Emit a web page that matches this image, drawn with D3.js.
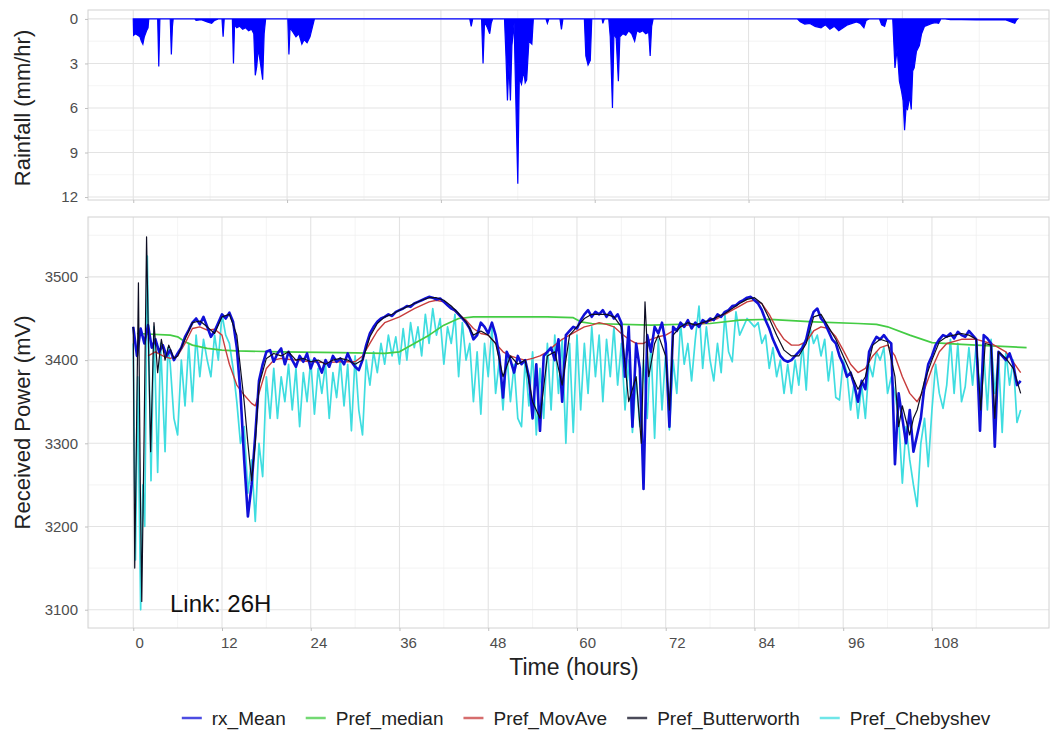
<!DOCTYPE html>
<html>
<head>
<meta charset="utf-8">
<script src="https://cdn.jsdelivr.net/npm/d3@7"></script>
<style>
  html, body { margin: 0; padding: 0; background: #ffffff; }
  svg { display: block; }
</style>
</head>
<body>
<svg id="chart" width="1057" height="735"></svg>
<script>
// ------------------------------------------------------------------
// DATA
// ------------------------------------------------------------------
const seriesNames = ["rx_Mean", "Pref_median", "Pref_MovAve", "Pref_Butterworth", "Pref_Chebyshev"];
const seriesColors = ["#1010d8", "#44cc44", "#c83c3c", "#0d0d22", "#3fdde0"];

const timeTicks = [0, 12, 24, 36, 48, 60, 72, 84, 96, 108];
const powerTicks = [3100, 3200, 3300, 3400, 3500];
const rainTicks = [0, 3, 6, 9, 12];
const rainGridHours = [0, 20.8, 41.6, 62.4, 83.2, 104];

// rainfall (hour, mm/hr)
const rainfall = [
 [0,0],[0.05,1.1],[0.3,1.0],[0.6,1.1],[0.9,1.2],[1.1,1.5],[1.3,1.7],[1.5,1.2],[1.8,0.8],[2.0,0.6],[2.1,0],
 [3.3,0],[3.45,3.2],[3.6,0],
 [5.0,0],[5.15,2.4],[5.3,0.5],[5.4,0],
 [8.3,0],[8.5,0.1],[9.2,0.05],[10.0,0.2],[10.6,0.3],[11.0,0.1],[11.5,0],
 [12.0,0],[12.15,1.2],[12.3,0],
 [13.4,0],[13.55,3.0],[13.7,0.4],[14.0,0.6],[14.4,0.5],[14.8,0.7],[15.2,0.6],[15.6,0.8],[16.0,0.7],[16.3,1.0],[16.5,3.8],[16.7,3.2],[16.9,2.0],[17.2,3.0],[17.5,4.1],[17.7,1.0],[17.9,0],
 [20.9,0],[21.05,2.4],[21.2,0.6],[21.6,0.9],[22.0,1.2],[22.4,1.0],[22.8,1.7],[23.1,1.4],[23.5,1.6],[23.9,1.2],[24.2,0.6],[24.5,0],
 [45.5,0],[45.7,0.5],[45.9,0],
 [47.1,0],[47.3,3.0],[47.5,0.2],[47.9,0.6],[48.2,1.0],[48.4,0.3],[48.6,0],
 [50.2,0],[50.4,2.5],[50.6,5.5],[50.8,3.0],[51.0,5.5],[51.2,1.8],[51.5,0.3],[51.8,7.0],[52.0,11.1],[52.2,4.0],[52.5,4.4],[52.8,3.5],[53.0,4.3],[53.2,4.1],[53.5,1.5],[53.9,1.7],[54.1,0],
 [55.8,0],[56.0,0.3],[56.2,0],[57.7,0],[57.9,0.7],[58.1,0],
 [61.0,0],[61.2,2.5],[61.5,3.1],[61.8,2.8],[62.0,0],
 [63.4,0],[63.5,0.3],[63.7,0],
 [64.3,0],[64.5,1.2],[64.8,6.0],[65.0,1.0],[65.3,1.3],[65.6,4.2],[65.8,1.2],[66.2,1.0],[66.6,1.1],[67.0,0.8],[67.4,1.0],[67.8,1.5],[68.1,0.8],[68.5,0.9],[68.9,0.8],[69.3,1.0],[69.7,0.9],[69.9,2.5],[70.1,0.5],[70.3,0],
 [89.8,0],[90.2,0.2],[90.8,0.35],[91.5,0.3],[92.2,0.5],[93.0,0.6],[93.6,0.4],[94.2,0.7],[94.8,0.5],[95.4,0.8],[96.0,0.6],[96.6,0.4],[97.2,0.3],[97.8,0.2],[98.3,0.3],[98.8,0.6],[99.1,0.1],[99.5,0],
 [100.9,0],[101.2,0.4],[101.6,0.5],[101.9,0],
 [102.7,0],[103.0,3.3],[103.3,2.0],[103.6,4.2],[103.9,4.9],[104.1,5.5],[104.3,7.5],[104.5,6.0],[104.7,6.1],[105.0,5.2],[105.2,6.1],[105.4,3.5],[105.6,3.3],[105.9,2.2],[106.3,1.8],[106.6,1.0],[107.0,0.5],[107.5,0.4],[108.0,0.3],[108.5,0.25],[108.9,0.3],[109.2,0],
 [109.8,0],[110.5,0.05],[112,0.05],[114,0.06],[116,0.05],[118,0.07],[119.2,0.3],[119.4,0.1],[119.6,0]
];

// rx_Mean sampled every 0.5 h starting at hour 0
const rxStartHour = 0, rxStepHours = 0.5;
const rxMean = [
 3440,3405,3438,3420,3442,3415,3425,3410,3418,3405,
 3412,3400,3408,3415,3428,3436,3445,3450,3443,3452,
 3440,3428,3435,3445,3455,3450,3457,3446,3415,3360,
 3280,3212,3250,3310,3375,3395,3410,3412,3398,3408,
 3414,3395,3410,3400,3392,3405,3398,3408,3390,3402,
 3396,3385,3400,3392,3405,3398,3402,3395,3408,3398,
 3392,3388,3400,3418,3432,3440,3446,3450,3452,3455,
 3453,3458,3460,3462,3465,3464,3468,3470,3472,3474,
 3476,3475,3473,3474,3470,3466,3462,3460,3455,3450,
 3445,3438,3425,3430,3445,3440,3432,3445,3430,3405,
 3355,3410,3400,3385,3405,3395,3400,3380,3330,3395,
 3315,3405,3410,3415,3400,3425,3350,3430,3435,3440,
 3438,3448,3455,3460,3452,3458,3455,3460,3452,3458,
 3450,3455,3445,3380,3440,3320,3420,3390,3245,3430,
 3410,3440,3432,3445,3420,3320,3440,3435,3445,3440,
 3448,3438,3445,3440,3448,3445,3450,3448,3455,3452,
 3458,3460,3465,3466,3470,3472,3475,3476,3472,3468,
 3460,3448,3438,3425,3415,3405,3400,3398,3400,3405,
 3410,3415,3425,3445,3458,3462,3450,3445,3435,3425,
 3420,3405,3395,3380,3385,3370,3350,3375,3365,3410,
 3420,3428,3425,3430,3424,3420,3275,3360,3330,3300,
 3340,3290,3310,3330,3370,3395,3405,3418,3425,3430,
 3428,3432,3426,3434,3430,3428,3435,3430,3425,3315,
 3430,3426,3420,3296,3410,3405,3400,3408,3395,3370,
 3375
];

// Pref_median (hour, mV)
const prefMedian = [
 [0.5,3432],[5,3430],[6,3428],[7,3422],[8,3418],[10,3414],[12,3412],[14,3411],[20,3410],[28,3409],[34,3408],
 [36,3410],[38,3420],[40,3430],[42,3442],[44,3450],[46,3452],[56,3452],[59.5,3451],[60.5,3446],[62,3444],
 [70,3442],[78,3444],[82,3448],[86,3449],[92,3446],[98,3444],[100.5,3443],[102,3440],[105,3430],[108,3421],
 [112,3419],[116,3417],[120.8,3415]
];

// Pref_MovAve (hour, mV)
const prefMovAve = [
 [2,3405],[3,3410],[4,3405],[5,3402],[6,3405],[7,3420],[8,3438],[9,3440],[10,3436],[11,3437],[12,3430],[12.5,3412],
 [13,3395],[14,3370],[15,3358],[16,3348],[16.5,3345],[17,3360],[18,3390],[19,3400],[20,3402],[22,3400],[24,3398],
 [26,3397],[28,3398],[30,3398],[31,3405],[32,3420],[33,3435],[34,3445],[36,3452],[38,3462],[40,3470],[41,3472],
 [42,3470],[43,3462],[44,3455],[45,3448],[46,3438],[47,3432],[48,3430],[49,3420],[50,3410],[51,3405],[52,3402],
 [53,3400],[54,3402],[55,3405],[56,3410],[57,3418],[58,3425],[59,3430],[60,3435],[61,3440],[62,3442],[63,3445],
 [64,3443],[65,3440],[66,3432],[67,3425],[68,3420],[69,3420],[70,3425],[71,3428],[72,3430],[73,3435],[74,3440],
 [75,3442],[76,3443],[77,3444],[78,3447],[79,3450],[80,3455],[81,3460],[82,3465],[83,3470],[84,3472],[85,3468],
 [86,3455],[87,3438],[88,3425],[89,3418],[90,3418],[91,3422],[92,3435],[93,3440],[94,3438],[95,3428],[96,3412],
 [97,3395],[98,3385],[99,3390],[100,3405],[101,3415],[102,3418],[103,3405],[104,3380],[105,3360],[106,3350],
 [107,3365],[108,3390],[109,3410],[110,3420],[112,3425],[114,3425],[116,3420],[118,3410],[120,3385]
];

// Pref_Butterworth (hour, mV)
const prefButterworth = [
 [0,3440],[0.2,3150],[0.45,3320],[0.7,3493],[0.95,3250],[1.15,3110],[1.45,3300],[1.8,3548],[2.1,3400],[2.35,3290],
 [2.8,3445],[3.3,3385],[3.8,3425],[4.3,3400],[4.8,3418],[5.5,3402],[6,3405],[7,3425],[8,3445],[9,3447],[10,3440],
 [11,3432],[12,3452],[13,3455],[14,3430],[15,3350],[15.5,3300],[16,3255],[16.5,3300],[17,3370],[18,3402],[19,3408],
 [20,3405],[21,3410],[22,3400],[23,3402],[24,3398],[25,3400],[26,3395],[27,3400],[28,3402],[29,3400],[30,3395],
 [31,3400],[32,3428],[33,3444],[34,3452],[35,3455],[36,3460],[37,3464],[38,3468],[39,3472],[40,3475],[41,3475],
 [42,3472],[43,3465],[44,3456],[45,3446],[46,3430],[47,3435],[48,3430],[49,3420],[50,3380],[51,3405],[52,3395],
 [53,3400],[54,3350],[55,3330],[56,3405],[57,3410],[58,3370],[59,3430],[60,3440],[61,3450],[62,3455],[63,3455],
 [64,3455],[65,3452],[66,3440],[67,3350],[68,3380],[68.7,3300],[69.2,3470],[69.7,3380],[70.5,3420],[71,3430],
 [72,3405],[72.5,3340],[73,3430],[74,3440],[75,3445],[76,3442],[77,3445],[78,3448],[79,3452],[80,3456],[81,3462],
 [82,3468],[83,3473],[84,3475],[85,3468],[86,3450],[87,3430],[88,3412],[89,3405],[90,3405],[91,3420],[92,3452],
 [93,3455],[94,3440],[95,3425],[96,3405],[97,3385],[98,3365],[99,3380],[100,3418],[101,3425],[102,3422],[103,3380],
 [103.5,3320],[104,3345],[105,3310],[105.5,3330],[106,3340],[107,3375],[108,3400],[109,3422],[110,3428],[111,3430],
 [112,3432],[113,3430],[114,3425],[114.6,3340],[115.2,3420],[116,3418],[116.5,3330],[117,3410],[118,3402],[119,3390],
 [120,3360]
];

// Pref_Chebyshev: irregular start (hour, mV), then every 0.5 h from hour 5
const chebyshevStart = [
 [0,3420],[0.3,3160],[0.6,3380],[1.0,3100],[1.3,3250],[1.55,3200],[1.9,3525],[2.4,3255],[2.8,3440],[3.3,3265],
 [3.7,3420],[4.3,3290],[4.7,3415]
];
const chebStartHour = 5, chebStepHours = 0.5;
const chebyshev = [
 3395,3330,3310,3400,3345,3420,3350,3430,3380,3425,
 3400,3380,3430,3400,3455,3430,3420,3390,3350,3300,
 3320,3240,3280,3206,3300,3260,3380,3330,3390,3330,
 3380,3350,3395,3340,3390,3320,3385,3350,3400,3335,
 3390,3360,3395,3330,3385,3355,3400,3345,3395,3315,
 3405,3340,3310,3400,3370,3410,3385,3420,3395,3430,
 3405,3428,3395,3438,3400,3445,3415,3440,3405,3455,
 3420,3462,3430,3450,3395,3440,3420,3455,3380,3445,
 3400,3420,3350,3410,3335,3420,3380,3440,3360,3400,
 3340,3410,3350,3395,3330,3320,3400,3345,3410,3310,
 3390,3330,3420,3340,3430,3360,3425,3300,3420,3313,
 3430,3340,3420,3360,3440,3380,3430,3350,3425,3380,
 3440,3370,3420,3340,3400,3313,3380,3320,3400,3330,
 3420,3306,3425,3340,3410,3316,3400,3360,3445,3395,
 3420,3375,3425,3465,3390,3440,3400,3375,3420,3385,
 3455,3410,3398,3458,3430,3440,3450,3445,3440,3445,
 3420,3430,3390,3415,3380,3400,3360,3395,3360,3400,
 3370,3420,3364,3440,3420,3430,3405,3425,3375,3410,
 3355,3352,3400,3385,3340,3375,3330,3370,3330,3395,
 3380,3410,3400,3415,3360,3380,3360,3330,3252,3320,
 3280,3250,3224,3300,3330,3272,3340,3395,3360,3342,
 3370,3425,3360,3420,3350,3368,3415,3370,3420,3360,
 3410,3340,3425,3360,3405,3313,3410,3370,3400,3325,
 3340
];

// ------------------------------------------------------------------
// LAYOUT
// ------------------------------------------------------------------
const FONT = "'Liberation Sans', Arial, Helvetica, sans-serif";
const svg = d3.select("#chart");
const panelL = 88, panelR = 1049;
const topT = 10, topB = 200;
const botT = 217, botB = 628;

const x = d3.scaleLinear().domain([-6.12, 123.83]).range([panelL, panelR]);
const yRain = d3.scaleLinear().domain([-0.6, 12.2]).range([topT, topB]);
const yPow = d3.scaleLinear().domain([3078, 3572]).range([botB, botT]);

const defs = svg.append("defs");
defs.append("clipPath").attr("id", "clipTop").append("rect")
  .attr("x", panelL).attr("y", topT).attr("width", panelR - panelL).attr("height", topB - topT);
defs.append("clipPath").attr("id", "clipBot").append("rect")
  .attr("x", panelL).attr("y", botT).attr("width", panelR - panelL).attr("height", botB - botT);

const GRID_MAJOR = "#e3e3e3", GRID_MINOR = "#efefef", BORDER = "#d2d2d2";

function midpoints(ticks, scaleDomain) {
  const out = [];
  const step = ticks[1] - ticks[0];
  const first = ticks[0] - step / 2;
  for (let v = first; v <= ticks[ticks.length - 1] + step / 2 + 1e-9; v += step) {
    if (v >= scaleDomain[0] && v <= scaleDomain[1]) out.push(v);
  }
  return out;
}

// ---------------- top panel grid ----------------
const gTop = svg.append("g");
gTop.selectAll(".hminor").data(midpoints(rainTicks, [0, 12.2])).enter().append("line")
  .attr("x1", panelL).attr("x2", panelR).attr("y1", d => yRain(d)).attr("y2", d => yRain(d))
  .attr("stroke", GRID_MINOR).attr("stroke-width", 0.7);
gTop.selectAll(".vminor").data(midpoints(rainGridHours, x.domain())).enter().append("line")
  .attr("y1", topT).attr("y2", topB).attr("x1", d => x(d)).attr("x2", d => x(d))
  .attr("stroke", GRID_MINOR).attr("stroke-width", 0.7);
gTop.selectAll(".hmajor").data(rainTicks).enter().append("line")
  .attr("x1", panelL).attr("x2", panelR).attr("y1", d => yRain(d)).attr("y2", d => yRain(d))
  .attr("stroke", GRID_MAJOR).attr("stroke-width", 1.1);
gTop.selectAll(".vmajor").data(rainGridHours).enter().append("line")
  .attr("y1", topT).attr("y2", topB).attr("x1", d => x(d)).attr("x2", d => x(d))
  .attr("stroke", GRID_MAJOR).attr("stroke-width", 1.1);

// ---------------- bottom panel grid ----------------
const gBot = svg.append("g");
gBot.selectAll(".hminor").data(midpoints(powerTicks, yPow.domain())).enter().append("line")
  .attr("x1", panelL).attr("x2", panelR).attr("y1", d => yPow(d)).attr("y2", d => yPow(d))
  .attr("stroke", GRID_MINOR).attr("stroke-width", 0.7);
gBot.selectAll(".vminor").data(midpoints(timeTicks, x.domain())).enter().append("line")
  .attr("y1", botT).attr("y2", botB).attr("x1", d => x(d)).attr("x2", d => x(d))
  .attr("stroke", GRID_MINOR).attr("stroke-width", 0.7);
gBot.selectAll(".hmajor").data(powerTicks).enter().append("line")
  .attr("x1", panelL).attr("x2", panelR).attr("y1", d => yPow(d)).attr("y2", d => yPow(d))
  .attr("stroke", GRID_MAJOR).attr("stroke-width", 1.1);
gBot.selectAll(".vmajor").data(timeTicks).enter().append("line")
  .attr("y1", botT).attr("y2", botB).attr("x1", d => x(d)).attr("x2", d => x(d))
  .attr("stroke", GRID_MAJOR).attr("stroke-width", 1.1);

// ---------------- rainfall ----------------
const rainArea = d3.area()
  .x(d => x(d[0])).y0(yRain(0)).y1(d => yRain(d[1]));
svg.append("path").datum(rainfall)
  .attr("clip-path", "url(#clipTop)")
  .attr("d", rainArea)
  .attr("fill", "#0000ff").attr("stroke", "#0000ff").attr("stroke-width", 1.2)
  .attr("stroke-linejoin", "miter");

// ---------------- power lines ----------------
const rxPairs = rxMean.map((v, i) => [rxStartHour + i * rxStepHours, v]);
const chebPairs = chebyshevStart.concat(chebyshev.map((v, i) => [chebStartHour + i * chebStepHours, v]));

const line = d3.line().x(d => x(d[0])).y(d => yPow(d[1]));
const gLines = svg.append("g").attr("clip-path", "url(#clipBot)");

const drawOrder = [
  { data: chebPairs, idx: 4, w: 1.7 },
  { data: prefMedian, idx: 1, w: 1.7 },
  { data: prefMovAve, idx: 2, w: 1.4 },
  { data: rxPairs, idx: 0, w: 2.6 },
  { data: prefButterworth, idx: 3, w: 1.2 }
];
drawOrder.forEach(s => {
  gLines.append("path").datum(s.data)
    .attr("d", line)
    .attr("fill", "none")
    .attr("stroke", seriesColors[s.idx])
    .attr("stroke-width", s.w)
    .attr("stroke-linejoin", "round");
});

// ---------------- panel borders ----------------
[[topT, topB], [botT, botB]].forEach(([t, b]) => {
  svg.append("rect").attr("x", panelL).attr("y", t)
    .attr("width", panelR - panelL).attr("height", b - t)
    .attr("fill", "none").attr("stroke", BORDER).attr("stroke-width", 1);
});

// ---------------- axes ----------------
function styleAxis(g) {
  g.select(".domain").remove();
  g.selectAll(".tick line").attr("stroke", "#c0c0c0");
  g.selectAll(".tick text").attr("fill", "#4d4d4d")
    .style("font-family", FONT).style("font-size", "15px");
}

svg.append("g").attr("transform", `translate(${panelL},0)`)
  .call(d3.axisLeft(yRain).tickValues(rainTicks).tickSize(3).tickPadding(7).tickFormat(d3.format("d")))
  .call(styleAxis);
svg.append("g").attr("transform", `translate(0,${topB})`)
  .call(d3.axisBottom(x).tickValues(rainGridHours).tickSize(3).tickFormat(""))
  .call(styleAxis);

svg.append("g").attr("transform", `translate(${panelL},0)`)
  .call(d3.axisLeft(yPow).tickValues(powerTicks).tickSize(3).tickPadding(7).tickFormat(d3.format("d")))
  .call(styleAxis);
const xAx = svg.append("g").attr("transform", `translate(0,${botB})`)
  .call(d3.axisBottom(x).tickValues(timeTicks).tickSize(3).tickPadding(6).tickFormat(d3.format("d")))
  .call(styleAxis);
xAx.selectAll(".tick text").attr("dx", d => (6 + d * 0.07) + "px");

// ---------------- titles ----------------
svg.append("text")
  .attr("transform", `translate(30,${(yRain(0) + yRain(12)) / 2}) rotate(-90)`)
  .attr("text-anchor", "middle")
  .style("font-family", FONT).style("font-size", "22px").attr("fill", "#222")
  .text("Rainfall (mm/hr)");

svg.append("text")
  .attr("transform", `translate(30,${(botT + botB) / 2}) rotate(-90)`)
  .attr("text-anchor", "middle")
  .style("font-family", FONT).style("font-size", "22px").attr("fill", "#222")
  .text("Received Power (mV)");

svg.append("text")
  .attr("x", 574).attr("y", 675)
  .attr("text-anchor", "middle")
  .style("font-family", FONT).style("font-size", "23px").attr("fill", "#222")
  .text("Time (hours)");

svg.append("text")
  .attr("x", 170).attr("y", 612)
  .style("font-family", FONT).style("font-size", "24px").attr("fill", "#111")
  .text("Link: 26H");

// ---------------- legend ----------------
const legend = svg.append("g");
const legY = 718, keyW = 20, keyGap = 10, itemGap = 20;
let cx = 0;
const items = seriesNames.map((name, i) => {
  const g = legend.append("g");
  g.append("line").attr("x1", 0).attr("x2", keyW).attr("y1", 0).attr("y2", 0)
    .attr("stroke", seriesColors[i]).attr("stroke-width", 2.5).attr("stroke-opacity", 0.75);
  const t = g.append("text").attr("x", keyW + keyGap).attr("y", 0).attr("dy", "0.35em")
    .style("font-family", FONT).style("font-size", "19px").attr("fill", "#222").text(name);
  const w = keyW + keyGap + t.node().getComputedTextLength();
  const off = cx;
  cx += w + itemGap;
  return { g, off };
});
const totalW = cx - itemGap;
const legStart = 586 - totalW / 2;
items.forEach(it => it.g.attr("transform", `translate(${legStart + it.off},${legY})`));
</script>
</body>
</html>
